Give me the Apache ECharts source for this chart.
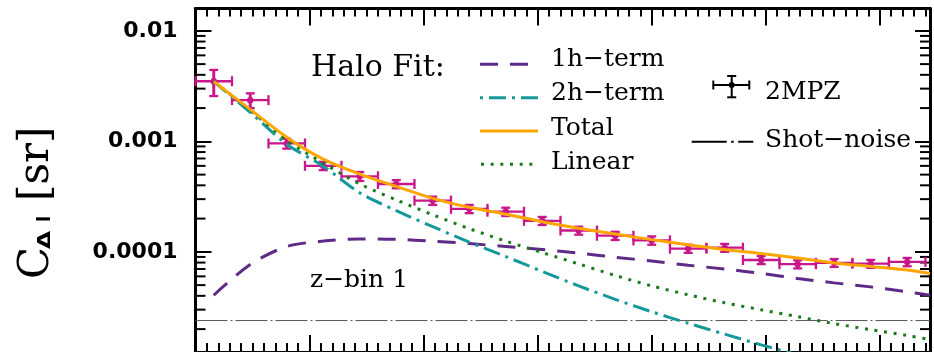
<!DOCTYPE html>
<html>
<head>
<meta charset="utf-8">
<script src="https://cdn.jsdelivr.net/npm/echarts@6/dist/echarts.min.js"></script>
<style>
  html, body { margin: 0; padding: 0; background: #fff; }
  #chart { width: 934px; height: 352px; }
</style>
</head>
<body>
<div id="chart"></div>
<script>
// Multipole bin centres of the 2MPZ measurement (bins of width 32)
const ellBins = [16, 48, 80, 112, 144, 176, 208, 240, 272, 304, 336, 368, 400, 432, 464, 496, 528, 560, 592, 624];
const binHalfWidth = 16;
// Measured angular power spectrum and 1-sigma errors [sr]
const cl2mpz = [3.50e-3, 2.36e-3, 9.57e-4, 6.01e-4, 4.83e-4, 4.11e-4, 2.91e-4, 2.45e-4, 2.31e-4, 1.91e-4,
                1.56e-4, 1.40e-4, 1.27e-4, 1.07e-4, 1.09e-4, 8.44e-5, 7.73e-5, 7.96e-5, 7.81e-5, 8.11e-5];
const cl2mpzErr = [9.3e-4, 3.6e-4, 9.8e-5, 5.2e-5, 4.5e-5, 3.5e-5, 2.5e-5, 2.1e-5, 2.0e-5, 1.6e-5,
                   1.3e-5, 1.2e-5, 1.1e-5, 9.0e-6, 9.0e-6, 7.0e-6, 6.5e-6, 6.5e-6, 6.5e-6, 7.0e-6];

// Halo-model curves sampled in multipole
const ellModel = [16, 48, 80, 112, 144, 176, 208, 240, 272, 304, 336, 368, 400, 432, 464, 496, 528, 560, 592, 624, 644];
const clTotal = [3.48e-3, 1.946e-3, 1.090e-3, 6.90e-4, 5.06e-4, 3.91e-4, 3.05e-4, 2.53e-4, 2.19e-4, 1.875e-4,
                 1.638e-4, 1.45e-4, 1.29e-4, 1.16e-4, 1.05e-4, 9.66e-5, 8.80e-5, 7.93e-5, 7.38e-5, 6.86e-5, 6.38e-5];
const cl1h = [4.05e-5, 7.69e-5, 1.117e-4, 1.251e-4, 1.309e-4, 1.297e-4, 1.251e-4, 1.188e-4, 1.117e-4, 1.049e-4,
              9.75e-5, 8.94e-5, 8.26e-5, 7.57e-5, 6.99e-5, 6.38e-5, 5.75e-5, 5.24e-5, 4.82e-5, 4.35e-5, 4.04e-5];
const cl2h = [3.48e-3, 1.83e-3, 9.42e-4, 5.96e-4, 3.42e-4, 2.36e-4, 1.69e-4, 1.225e-4, 9.07e-5, 6.65e-5,
              4.92e-5, 3.72e-5, 2.87e-5, 2.26e-5, 1.80e-5, 1.44e-5, 1.17e-5];
const clLinear = [3.48e-3, 1.907e-3, 1.023e-3, 6.35e-4, 4.12e-4, 2.955e-4, 2.165e-4, 1.622e-4, 1.251e-4, 9.86e-5,
                  7.77e-5, 6.12e-5, 4.92e-5, 4.09e-5, 3.46e-5, 2.99e-5, 2.59e-5, 2.24e-5, 1.98e-5, 1.75e-5, 1.61e-5];
const shotNoise = 2.39e-5;

// Axis extents and labelled ticks
const ellMin = 0, ellMax = 644;
const clMin = 1.241e-5, clMax = 1.593e-2;
const yTickValues = [1e-4, 1e-3, 1e-2];
const yTickLabels = ['0.0001', '0.001', '0.01'];

const COL = {
  oneH: '#5f2a87',
  twoH: '#17989a',
  total: '#ffa500',
  linear: '#1b7a1b',
  data: '#c8178a',
  noise: '#555555'
};

const zip = (xs, ys) => ys.map((y, i) => [xs[i], y]);

// minor decade ticks (2..9 x 10^k) for the log axis
const minorYTicks = [];
for (let e = -5; e <= -2; e++) {
  for (let m = 2; m <= 9; m++) {
    const v = m * Math.pow(10, e);
    if (v > clMin && v < clMax) minorYTicks.push([ellMin, v]);
  }
}

const tickStyle = { color: '#000', width: 2 };
function xAxisDef(position, interval, len) {
  return {
    type: 'value', position: position, min: ellMin, max: ellMax, interval: interval,
    axisLine: { show: true, onZero: false, lineStyle: { color: '#000', width: 3 } },
    axisTick: { show: true, inside: true, length: len, lineStyle: tickStyle },
    axisLabel: { show: false }, splitLine: { show: false }
  };
}
function yAxisDef(position, showLabels, len) {
  return {
    type: 'log', logBase: 10, position: position, min: clMin, max: clMax,
    axisLine: { show: true, onZero: false, lineStyle: { color: '#000', width: 3 } },
    axisTick: { show: true, inside: true, length: len, lineStyle: tickStyle },
    splitLine: { show: false },
    axisLabel: {
      show: showLabels, margin: 18, showMinLabel: false, showMaxLabel: false,
      fontFamily: 'DejaVu Sans', fontWeight: 'bold', fontSize: 22, color: '#000',
      formatter: function (v) {
        for (let i = 0; i < yTickValues.length; i++) {
          if (Math.abs(Math.log10(v) - Math.log10(yTickValues[i])) < 1e-6) return yTickLabels[i];
        }
        return '';
      }
    }
  };
}

function lineSeries(name, xs, ys, color, dash, width) {
  return {
    name: name, type: 'line', xAxisIndex: 0, yAxisIndex: 0,
    data: zip(xs, ys), showSymbol: false, symbol: 'none', smooth: 0.3,
    clip: true, silent: true,
    lineStyle: { color: color, width: width, type: dash || 'solid', cap: 'butt' }
  };
}

// text helpers for the in-plot legend and labels
const SERIF = 'DejaVu Serif';
const SANS = 'DejaVu Sans';
function label(str, x, baseline, size) {
  return {
    type: 'text', x: x, y: baseline - 0.3 * size, silent: true,
    style: { text: str, fontFamily: SERIF, fontSize: size, fill: '#000',
             align: 'left', verticalAlign: 'middle' }
  };
}
function vlabel(str, x, y, family, size, weight, stretch) {
  return {
    type: 'text', x: x, y: y, rotation: Math.PI / 2, scaleX: stretch || 1, silent: true,
    style: { text: str, fontFamily: family, fontSize: size, fontWeight: weight || 'normal', fill: '#000',
             align: 'left', verticalAlign: 'middle' }
  };
}
function seg(x1, y1, x2, y2, color, width, dash) {
  return {
    type: 'line', silent: true,
    shape: { x1: x1, y1: y1, x2: x2, y2: y2 },
    style: { stroke: color, lineWidth: width, lineDash: dash || null }
  };
}

const chart = echarts.init(document.getElementById('chart'), null, { renderer: 'canvas' });

chart.setOption({
  animation: false,
  backgroundColor: '#fff',
  grid: { left: 195.5, right: 4, top: 8.5, bottom: -2, containLabel: false },
  xAxis: [
    xAxisDef('bottom', 10, 9),
    xAxisDef('bottom', 100, 17),
    xAxisDef('top', 10, 8),
    xAxisDef('top', 100, 17)
  ],
  yAxis: [
    yAxisDef('left', true, 16),
    yAxisDef('right', false, 15)
  ],
  series: [
    {
      name: 'minor ticks', type: 'custom', coordinateSystem: 'cartesian2d',
      xAxisIndex: 0, yAxisIndex: 0, silent: true, clip: false,
      data: minorYTicks,
      renderItem: function (params, api) {
        const cs = params.coordSys;
        const y = api.coord([api.value(0), api.value(1)])[1];
        return {
          type: 'group',
          children: [
            { type: 'line', shape: { x1: cs.x, y1: y, x2: cs.x + 10, y2: y }, style: { stroke: '#000', lineWidth: 2 } },
            { type: 'line', shape: { x1: cs.x + cs.width - 10, y1: y, x2: cs.x + cs.width, y2: y }, style: { stroke: '#000', lineWidth: 2 } }
          ]
        };
      }
    },
    {
      name: 'Shot-noise', type: 'line', xAxisIndex: 0, yAxisIndex: 0,
      data: [[ellMin, shotNoise], [ellMax, shotNoise]], symbol: 'none', silent: true,
      lineStyle: { color: COL.noise, width: 1, type: [32, 3, 2, 3] }
    },
    lineSeries('1h-term', ellModel, cl1h, COL.oneH, [18, 12], 3),
    lineSeries('2h-term', ellModel.slice(0, cl2h.length), cl2h, COL.twoH, [17, 6, 3, 6], 3),
    lineSeries('Linear', ellModel, clLinear, COL.linear, [3, 6.67], 3),
    lineSeries('Total', ellModel, clTotal, COL.total, null, 3),
    {
      name: '2MPZ', type: 'custom', coordinateSystem: 'cartesian2d',
      xAxisIndex: 0, yAxisIndex: 0, silent: true, clip: false,
      data: ellBins.map((l, i) => [l, cl2mpz[i], cl2mpzErr[i]]),
      renderItem: function (params, api) {
        const l = api.value(0), c = api.value(1), e = api.value(2);
        const p = api.coord([l, c]);
        const left = api.coord([l - binHalfWidth, c]);
        const right = api.coord([l + binHalfWidth, c]);
        const top = api.coord([l, c + e]);
        const bot = api.coord([l, c - e]);
        const st = { stroke: COL.data, lineWidth: 2.3 };
        const capH = 5, capV = 4.5;
        return {
          type: 'group',
          children: [
            { type: 'line', shape: { x1: left[0], y1: p[1], x2: right[0], y2: p[1] }, style: st },
            { type: 'line', shape: { x1: left[0], y1: p[1] - capH, x2: left[0], y2: p[1] + capH }, style: st },
            { type: 'line', shape: { x1: right[0], y1: p[1] - capH, x2: right[0], y2: p[1] + capH }, style: st },
            { type: 'line', shape: { x1: p[0], y1: top[1], x2: p[0], y2: bot[1] }, style: { stroke: COL.data, lineWidth: 3 } },
            { type: 'line', shape: { x1: p[0] - capV, y1: top[1], x2: p[0] + capV, y2: top[1] }, style: st },
            { type: 'line', shape: { x1: p[0] - capV, y1: bot[1], x2: p[0] + capV, y2: bot[1] }, style: st },
            { type: 'circle', shape: { cx: p[0], cy: p[1], r: 3.2 }, style: { fill: COL.data } }
          ]
        };
      }
    }
  ],
  graphic: [
    // y-axis title: C_Δl [sr]
    vlabel('C', 37, 279, SERIF, 42),
    vlabel('\u0394', 45, 249, SANS, 18, 'bold', 1.3),
    vlabel('l', 45, 222, SANS, 18, 'bold'),
    vlabel('[sr]', 37, 201, SERIF, 42),

    // legend
    label('Halo Fit:', 311, 77, 30),
    seg(480, 64.3, 528, 64.3, COL.oneH, 3, [18, 12]),
    seg(480, 97.7, 538, 97.7, COL.twoH, 3, [3, 6, 17, 6]),
    seg(480, 131, 538, 131, COL.total, 3),
    seg(481, 164.3, 534, 164.3, COL.linear, 3, [3, 6.67]),
    label('1h\u2212term', 551, 67, 25),
    label('2h\u2212term', 551, 101, 25),
    label('Total', 551, 136, 25),
    label('Linear', 551, 170, 25),

    // 2MPZ symbol
    seg(713.3, 85, 749.3, 85, '#000', 2),
    seg(713.3, 80.5, 713.3, 89.5, '#000', 2),
    seg(749.3, 80.5, 749.3, 89.5, '#000', 2),
    seg(731.7, 76, 731.7, 97.3, '#000', 2),
    seg(727.2, 76, 736.2, 76, '#000', 2),
    seg(727.2, 97.3, 736.2, 97.3, '#000', 2),
    { type: 'circle', silent: true, shape: { cx: 731.7, cy: 85, r: 3 }, style: { fill: '#000' } },
    label('2MPZ', 765, 100, 25),

    // shot-noise key
    seg(691.7, 141.7, 753.3, 141.7, '#000', 2, [35, 4.5, 2.5, 4.5]),
    label('Shot\u2212noise', 765, 148, 25),

    label('z\u2212bin 1', 310, 288, 25)
  ]
});
</script>
</body>
</html>
